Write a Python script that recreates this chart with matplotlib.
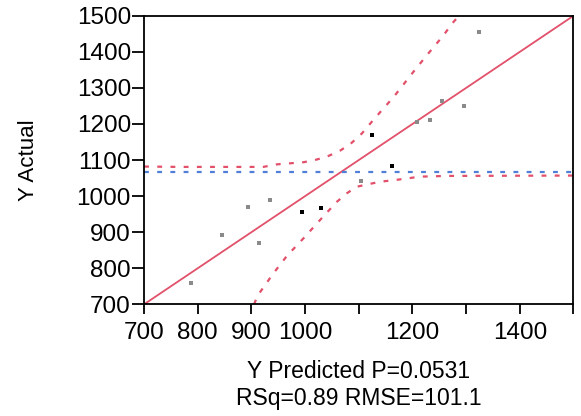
import matplotlib
matplotlib.use("Agg")
from matplotlib import pyplot as plt

plt.rcParams['font.family'] = ['Liberation Sans', 'DejaVu Sans']
plt.rcParams['lines.scale_dashes'] = False

# Leverage points (x = predicted, y = actual)
grey_x = [787, 846, 893, 914, 934, 1105, 1208, 1232, 1256, 1297, 1324]
grey_y = [758, 892, 971, 871, 988, 1042, 1205, 1211, 1265, 1250, 1456]
black_x = [994, 1030, 1125, 1161]
black_y = [957, 966, 1169, 1083]

# Confidence curves
upper_x = [700, 766, 922, 947, 997, 1018, 1040, 1065, 1084, 1106, 1127, 1146, 1165, 1202, 1227, 1258, 1274, 1290]
upper_y = [1082, 1081, 1081, 1088, 1094, 1100, 1109, 1126, 1144, 1174, 1211, 1243, 1275, 1345, 1391, 1446, 1479, 1505]
lower_x = [905, 911, 941, 966, 997, 1028, 1059, 1078, 1096, 1118, 1140, 1165, 1214, 1264, 1500]
lower_y = [700, 723, 786, 834, 883, 934, 984, 1008, 1026, 1033, 1040, 1044, 1054, 1056, 1057]

mean_y = 1068
fit_x = [700, 1500]
fit_y = [700, 1500]

x_ticks = [700, 800, 900, 1000, 1100, 1200, 1300, 1400, 1500]
x_labels = ['700', '800', '900', '1000', '', '1200', '', '1400', '']
y_ticks = [700, 800, 900, 1000, 1100, 1200, 1300, 1400, 1500]

fig = plt.figure(figsize=(5.81, 4.16), dpi=100)
ax = fig.add_axes([0.248, 0.2685, 0.739, 0.6935])

red = '#e2506a'
ax.plot(fit_x, fit_y, color=red, lw=1.3)
ax.axhline(mean_y, color='#4f7fd6', lw=1.6, dashes=(3.5, 6))
ax.plot(upper_x, upper_y, color=red, lw=1.6, dashes=(3.5, 6))
ax.plot(lower_x, lower_y, color=red, lw=1.6, dashes=(3.5, 6))

ax.plot(grey_x, grey_y, 's', color='#8a8a8a', ms=3, mew=0)
ax.plot(black_x, black_y, 's', color='black', ms=3, mew=0)

ax.set_xlim(700, 1500)
ax.set_ylim(700, 1500)
ax.set_xticks(x_ticks)
ax.set_xticklabels(x_labels)
ax.set_yticks(y_ticks)
ax.tick_params(axis='both', labelsize=17.5, width=1.3, direction='out')
ax.tick_params(axis='y', length=8.5, pad=1)
ax.tick_params(axis='x', length=7.5, pad=5)
for s in ax.spines.values():
    s.set_linewidth(1.3)

ax.set_ylabel('Y Actual', fontsize=16, labelpad=27)
ax.set_xlabel('Y Predicted P=0.0531\nRSq=0.89 RMSE=101.1', fontsize=16.5, labelpad=12, linespacing=1.2)

fig.savefig('out.png', dpi=100)
